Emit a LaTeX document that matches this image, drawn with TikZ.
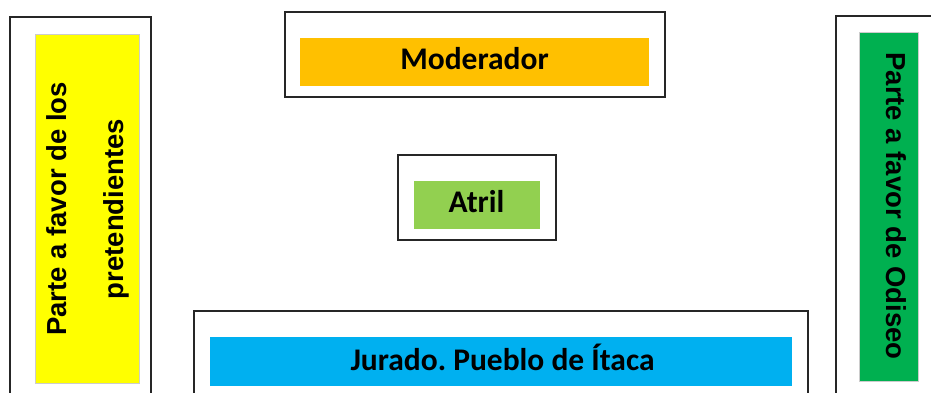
\documentclass[tikz,border=0pt]{standalone}
\usepackage{fontspec}
\setmainfont{Carlito}
\newfontfamily\arialfont{Liberation Sans}
\frenchspacing
\begin{document}
\begin{tikzpicture}[x=1pt,y=-1pt,
  outerbox/.style={draw=black!85, line width=1.1pt, fill=white, inner sep=0pt, outer sep=0pt},
  fillbox/.style={draw=black!20, line width=0.4pt, inner sep=0pt, outer sep=0pt},
  cal/.style={font=\fontsize{31.5}{38}\selectfont\bfseries, inner sep=0pt},
  ari/.style={font=\arialfont\fontsize{27.5}{57}\selectfont\bfseries, inner sep=0pt, align=center}]
\useasboundingbox (0,0) rectangle (931,393);
\clip (0,0) rectangle (931,393);
\fill[white] (0,0) rectangle (931,393);
% left side
\node[outerbox, minimum width=141pt, minimum height=383pt] (lout) at (80.5,208.5) {};
\node[fillbox, fill={rgb,255:red,255;green,255;blue,0}, minimum width=104pt, minimum height=349pt] (lfill) at (87,208.5) {};
\node[ari, rotate=90] (ltext) at (87.5,209) {Parte a favor de los\\pretendientes};
% right side
\node[outerbox, minimum width=109pt, minimum height=384pt] (rout) at (890.5,208) {};
\node[fillbox, fill={rgb,255:red,0;green,176;blue,80}, minimum width=59pt, minimum height=349pt] (rfill) at (888.5,206.5) {};
\node[ari, rotate=-90, anchor=base] (rtext) at (886,206) {Parte a favor de Odiseo};
% moderador
\node[outerbox, minimum width=380pt, minimum height=85pt] (mout) at (475,54.5) {};
\node[fillbox, draw=none, fill={rgb,255:red,255;green,192;blue,0}, minimum width=349pt, minimum height=48pt] (mfill) at (474.5,62) {};
\node[cal, anchor=base] (mtext) at (474.5,70) {Moderador};
% atril
\node[outerbox, minimum width=158pt, minimum height=85pt] (aout) at (477,197.5) {};
\node[fillbox, draw=none, fill={rgb,255:red,146;green,208;blue,80}, minimum width=126pt, minimum height=48pt] (afill) at (477,205) {};
\node[cal, anchor=base] (atext) at (476.5,212) {Atril};
% jurado
\node[outerbox, minimum width=614pt, minimum height=89pt] (jout) at (501,355.5) {};
\node[fillbox, draw=none, fill={rgb,255:red,0;green,176;blue,240}, minimum width=582pt, minimum height=49pt] (jfill) at (501,361.5) {};
\node[cal, anchor=base] (jtext) at (502.5,370) {Jurado. Pueblo de Ítaca};
\end{tikzpicture}
\end{document}
